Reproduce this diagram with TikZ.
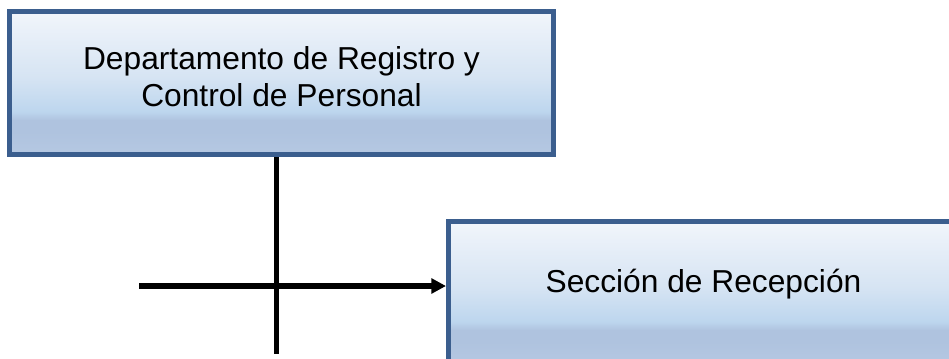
\documentclass[tikz,border=0pt]{standalone}
\usepackage{fontspec}
\setmainfont{Liberation Sans}
\usepackage{tikz}
\usetikzlibrary{arrows.meta}
\usepackage{xcolor}
\definecolor{boxline}{RGB}{59,94,142}
\definecolor{boxtop}{RGB}{241,245,251}
\definecolor{boxmid}{RGB}{214,228,243}
\definecolor{boxlow}{RGB}{189,214,238}
\definecolor{boxband}{RGB}{175,195,223}
\definecolor{boxfoot}{RGB}{181,200,226}
\pgfdeclareverticalshading{boxfill}{100bp}{color(0bp)=(boxfoot); color(25bp)=(boxfoot); color(33bp)=(boxband); color(37bp)=(boxband); color(40bp)=(boxlow); color(52bp)=(boxmid); color(75bp)=(boxtop); color(100bp)=(boxtop)}

\begin{document}
\begin{tikzpicture}[x=0.75pt,y=0.75pt,>={Triangle[length=11pt,width=11pt]},
  unitbox/.style={draw=boxline,line width=3.75pt,shading=boxfill,align=center,inner sep=0pt,
    font=\fontsize{23.8pt}{27.75pt}\selectfont},
  wire/.style={line width=4pt}]
\useasboundingbox (0,0) rectangle (949,358);
\begin{scope}
\clip (0,0) rectangle (949,358);
\node[unitbox,minimum width=408pt,minimum height=107.25pt,text depth=9pt] (depto) at (281.5,275) {Departamento de Registro y\\Control de Personal};
\node[unitbox,minimum width=382.5pt,minimum height=107.25pt,text depth=18.8pt] (recep) at (703.5,65) {Sección de Recepción};
\end{scope}
\coordinate (vend) at (276.5,4);
\coordinate (hstart) at (139,72);
\draw[wire] (vend |- depto.south) -- (vend);
\draw[wire,->] (hstart) -- (hstart -| recep.west);
\end{tikzpicture}
\end{document}
